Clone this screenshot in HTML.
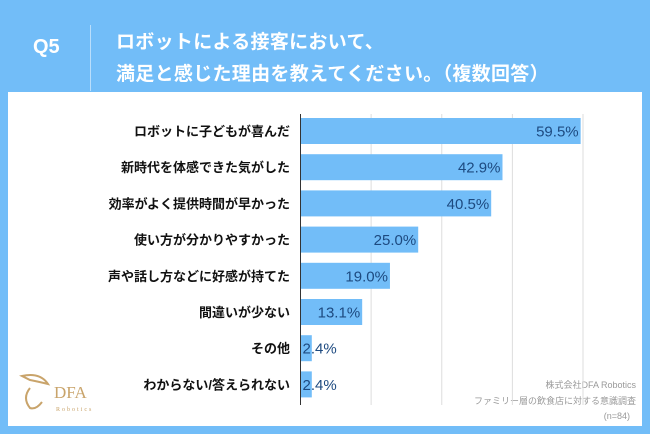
<!DOCTYPE html>
<html><head><meta charset="utf-8"><style>
body{margin:0;width:650px;height:434px;background:#72bdf8;font-family:"Liberation Sans","Noto Sans CJK JP",sans-serif;overflow:hidden;position:relative}
.q{position:absolute;left:33px;top:36px;color:#fff;font-weight:bold;font-size:20px}
.sep{position:absolute;left:90px;top:25px;width:1px;height:66px;background:#b9defc}
.t{position:absolute;left:116px;top:27px;color:#fff;font-weight:bold;font-size:19px;line-height:32px;letter-spacing:0.3px}
.panel{position:absolute;left:8px;top:92px;width:634px;height:334px;background:#fff}
</style></head><body>
<div class="q">Q5</div>
<div class="sep"></div>
<div class="t">ロボットによる接客において、<br>満足と感じた理由を教えてください。（複数回答）</div>
<div class="panel"></div>
<svg id="c" width="650" height="434" style="position:absolute;left:0;top:0">
<text x="636" y="388" font-size="9" fill="#999" text-anchor="end" font-family="Liberation Sans,Noto Sans CJK JP,sans-serif">株式会社DFA Robotics</text>
<text x="636" y="404" font-size="9" fill="#999" text-anchor="end" font-family="Liberation Sans,Noto Sans CJK JP,sans-serif">ファミリー層の飲食店に対する意識調査</text>
<text x="630" y="419" font-size="9" fill="#999" text-anchor="end" font-family="Liberation Sans,sans-serif">(n=84)</text>
<g>
<path d="M22 376 Q40 372 48 384 Q40 382 30 380 Z M30 388 Q22 398 30 408 Q36 410 42 402" fill="none" stroke="#c9a46b" stroke-width="2"/>
<text x="54" y="398" font-size="17" fill="#c9a46b" font-family="Liberation Serif,serif">DFA</text>
<text x="56" y="411" font-size="6" fill="#c9a46b" letter-spacing="2" font-family="Liberation Serif,serif">Robotics</text>
</g>
</svg>
<script>
const categories=["ロボットに子どもが喜んだ","新時代を体感できた気がした","効率がよく提供時間が早かった","使い方が分かりやすかった","声や話し方などに好感が持てた","間違いが少ない","その他","わからない/答えられない"];
const values=[59.5,42.9,40.5,25.0,19.0,13.1,2.4,2.4];
const ticks=[0,15,30,45,60];
const svg=document.getElementById('c');
const NS='http://www.w3.org/2000/svg';
const x0=300.5,xMax=583,vMax=60,y0=118,step=36.2,bh=26;
const x=v=>x0+(xMax-x0)*v/vMax;
function mk(t,a){const e=document.createElementNS(NS,t);for(const k in a)e.setAttribute(k,a[k]);svg.appendChild(e);return e;}
ticks.forEach((t,i)=>{if(i===0)return;const l=mk('line',{x1:x(t),x2:x(t),y1:114,y2:405,stroke:'#ddd','stroke-width':1});

});
categories.forEach((c,i)=>{
const y=y0+i*step;
const r=mk('rect',{x:x0,y:y,width:x(values[i])-x0,height:bh,fill:'#72bdf8'});


const lb=mk('text',{x:290,y:y+bh/2+5,'text-anchor':'end','font-size':13,'font-weight':'bold',fill:'#111','font-family':'Liberation Sans,Noto Sans CJK JP,sans-serif'});
lb.textContent=c;


const w=x(values[i])-x0;const inside=w>45;
const vt=mk('text',{x:inside?x(values[i])-2:x0+2,y:y+bh/2+5.5,'text-anchor':inside?'end':'start','font-size':15,fill:'#1d4a80','font-family':'Liberation Sans,sans-serif'});
vt.textContent=values[i].toFixed(1)+'%';


});
const ax=mk('line',{x1:x0,x2:x0,y1:114,y2:405,stroke:'#333','stroke-width':1});


</script>
</body></html>
